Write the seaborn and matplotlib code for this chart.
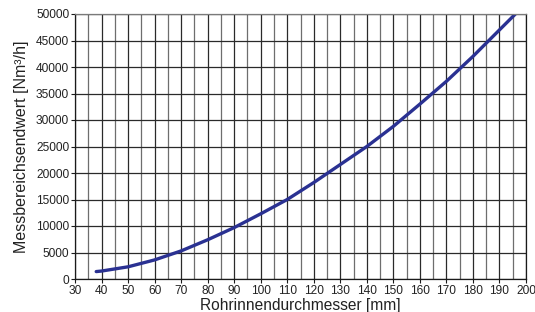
import matplotlib
matplotlib.use("Agg")
import matplotlib.pyplot as plt
import seaborn as sns
import pandas as pd
from matplotlib.ticker import MultipleLocator

# Rohrinnendurchmesser [mm] vs. Messbereichsendwert [Nm³/h]
diameter = [38, 40, 50, 60, 70, 80, 90, 100, 110, 120, 130, 140, 150, 160, 170, 180, 190, 196]
flow = [1400, 1500, 2300, 3600, 5300, 7400, 9700, 12300, 15000, 18200, 21600,
        25000, 28800, 33000, 37300, 42000, 47000, 50000]

x_ticks = list(range(30, 201, 10))
y_ticks = list(range(0, 50001, 5000))

df = pd.DataFrame({"d": diameter, "q": flow})

sns.set_style("white")
plt.rcParams["font.family"] = ["Liberation Sans", "DejaVu Sans"]

fig = plt.figure(figsize=(5.35, 3.12), dpi=100)
ax = fig.add_axes([75 / 535, 1 - 279 / 312, 451 / 535, 265 / 312])

sns.lineplot(data=df, x="d", y="q", ax=ax, color="#2a3192", linewidth=2.4)

ax.set_xlim(30, 200)
ax.set_ylim(0, 50000)
ax.set_xticks(x_ticks)
ax.set_yticks(y_ticks)
ax.xaxis.set_minor_locator(MultipleLocator(5))
ax.grid(which="major", axis="both", color="#2a2a2a", linewidth=0.9)
ax.grid(which="minor", axis="x", color="#6e6e6e", linewidth=0.9)
ax.set_axisbelow(True)

for side in ["left", "bottom", "right"]:
    ax.spines[side].set_color("#1a1a1a")
    ax.spines[side].set_linewidth(0.9)
ax.spines["top"].set_color("#7a7a7a")
ax.spines["top"].set_linewidth(0.9)

ax.tick_params(axis="both", which="major", labelsize=8.6, length=3, width=0.8,
               color="#1a1a1a", pad=1.2, bottom=True, left=True, labelcolor="#222222")
ax.tick_params(axis="x", which="minor", length=0)

ax.set_xlabel("Rohrinnendurchmesser [mm]", fontsize=11.2, labelpad=0.5, color="#222222")
ax.set_ylabel("Messbereichsendwert [Nm³/h]", fontsize=11.5, labelpad=5, color="#222222")

fig.savefig("out.png", dpi=100)
